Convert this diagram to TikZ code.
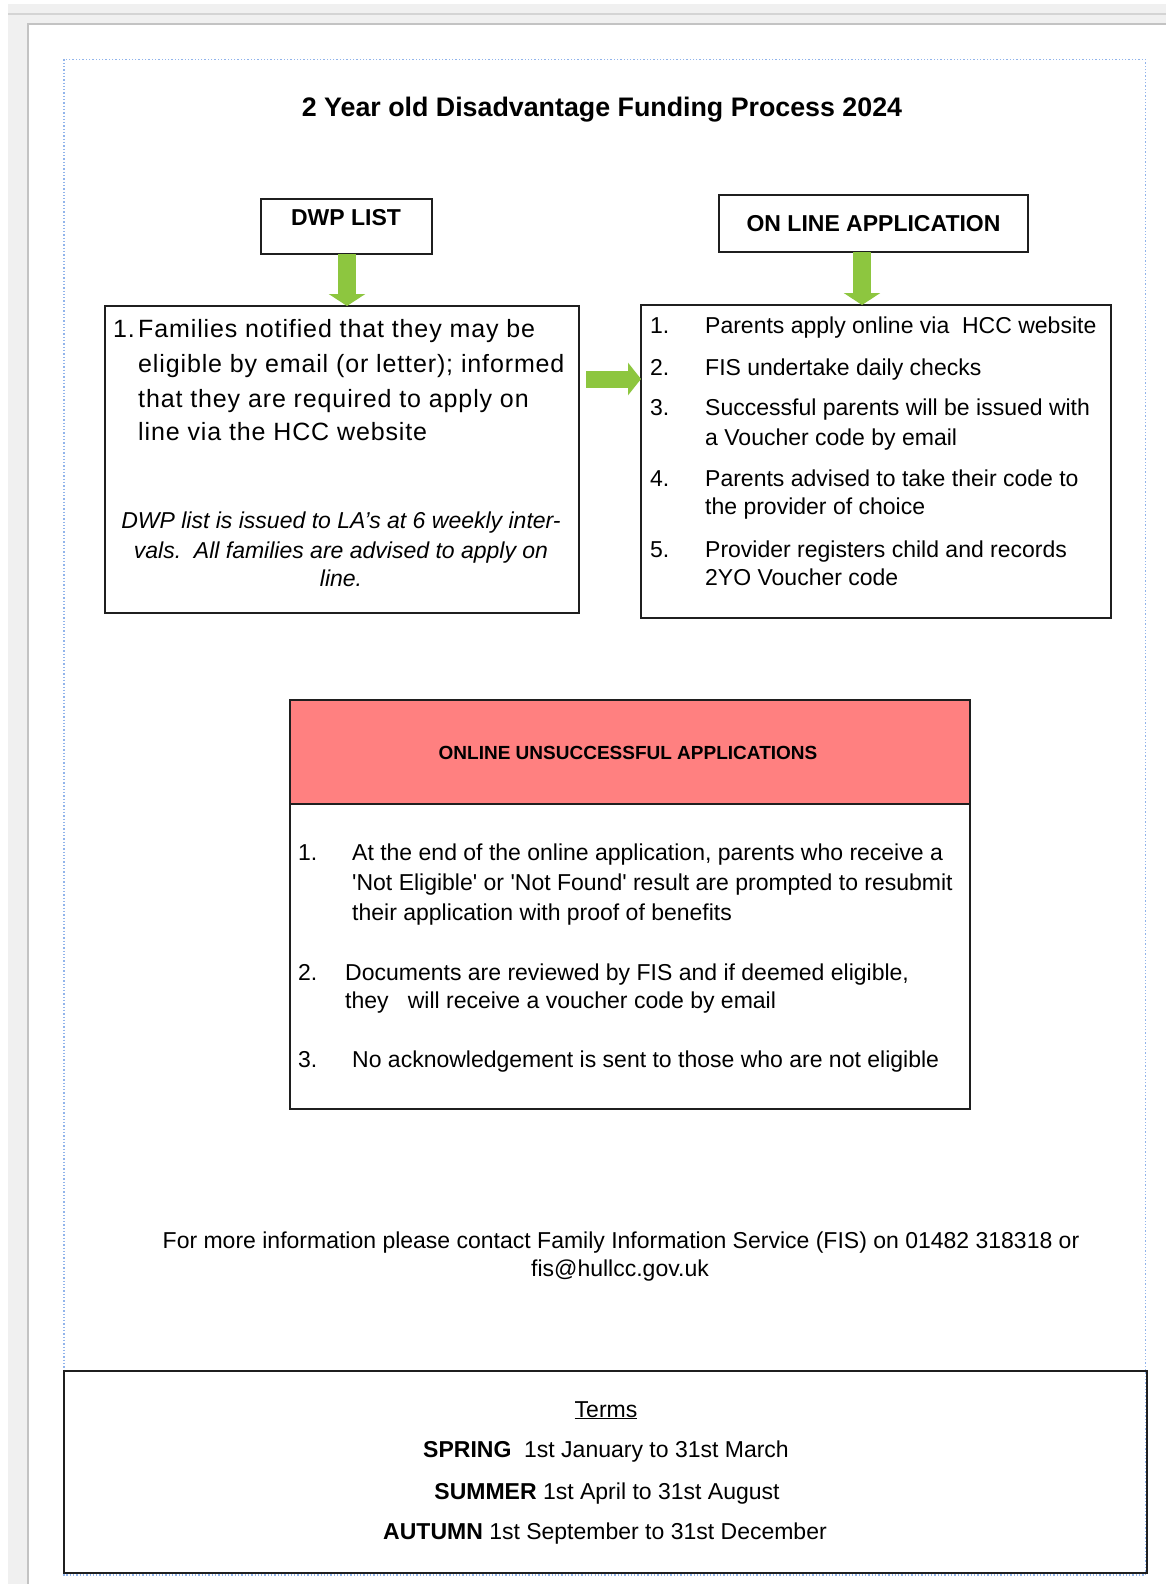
\documentclass[tikz,border=0pt]{standalone}
\usepackage{fontspec}
\setmainfont{Liberation Sans}
\newfontfamily\spacedfont[LetterSpace=3.5]{Liberation Sans}
\usetikzlibrary{arrows.meta,calc}
\definecolor{arrowgreen}{RGB}{141,198,63}
\definecolor{headred}{RGB}{255,128,128}
\definecolor{framegray}{RGB}{240,240,240}
\definecolor{frameline}{RGB}{212,212,212}
\definecolor{pageline}{RGB}{195,195,195}
\definecolor{guideblue}{RGB}{145,180,235}
\begin{document}
\begin{tikzpicture}[x=1pt,y=-1pt,
  box/.style={draw=black!88, line width=2pt, inner sep=0pt, outer sep=0pt, anchor=north west},
  lt/.style={inner sep=0pt, anchor=base west, font=\fontsize{23}{28}\selectfont},
  ct/.style={inner sep=0pt, anchor=base, font=\fontsize{23}{28}\selectfont},
  bigt/.style={inner sep=0pt, anchor=base west, font=\spacedfont\fontsize{25}{30}\selectfont},
  itt/.style={inner sep=0pt, anchor=base, font=\fontsize{23}{28}\selectfont\itshape},
  greenarrow/.style={draw=arrowgreen, fill=arrowgreen, line width=18pt, -{Triangle[width=36pt,length=12pt]}},
  greenarrowh/.style={draw=arrowgreen, fill=arrowgreen, line width=17pt, -{Triangle[width=32pt,length=13pt]}}]
\useasboundingbox (0,0) rectangle (1166,1584);
\fill[white] (0,0) rectangle (1166,1584);
% window frame
\fill[framegray] (8,4) rectangle (1166,23);
\fill[framegray] (8,23) rectangle (27,1584);
\draw[frameline, line width=2pt] (8,14) -- (1166,14);
\draw[pageline, line width=2pt] (28,1584) -- (28,24) -- (1166,24);
% guide
\draw[guideblue, dotted, line width=1.3pt] (64,59.5) rectangle (1145.5,1575);

% title
\node[ct, font=\fontsize{26.8}{30}\selectfont\bfseries] (title) at (602,117) {2 Year old Disadvantage Funding Process 2024};

% DWP
\node[box, minimum width=171pt, minimum height=55pt] (dwp) at (261,199) {};
\node[ct, font=\fontsize{23}{28}\selectfont\bfseries] (dwpt) at (346,225) {DWP LIST};
\node[box, minimum width=474pt, minimum height=307pt] (left) at (105,306) {};
\node[bigt] (l1n) at (113,337) {1.};
\node[bigt] (l1a) at (138,337) {Families notified that they may be};
\node[bigt] (l1b) at (138,372) {eligible by email (or letter); informed};
\node[bigt] (l1c) at (138,407) {that they are required to apply on};
\node[bigt] (l1d) at (138,440) {line via the HCC website};
\node[itt] (i1) at (341,528) {DWP list is issued to LA's at 6 weekly inter-};
\node[itt] (i2) at (341,558) {vals.\ \ All families are advised to apply on};
\node[itt] (i3) at (341,586) {line.};

% online application
\node[box, minimum width=309pt, minimum height=57pt] (onl) at (719,195) {};
\node[ct, font=\fontsize{23}{28}\selectfont\bfseries] (onlt) at (873.5,231) {ON LINE APPLICATION};
\node[box, minimum width=470pt, minimum height=313pt] (right) at (641,305) {};
\node[lt] (r1n) at (650,333) {1.};
\node[lt] (r1) at (705,333) {Parents apply online via~ HCC website};
\node[lt] (r2n) at (650,375) {2.};
\node[lt] (r2) at (705,375) {FIS undertake daily checks};
\node[lt] (r3n) at (650,415) {3.};
\node[lt] (r3a) at (705,415) {Successful parents will be issued with};
\node[lt] (r3b) at (705,445) {a Voucher code by email};
\node[lt] (r4n) at (650,486) {4.};
\node[lt] (r4a) at (705,486) {Parents advised to take their code to};
\node[lt] (r4b) at (705,514) {the provider of choice};
\node[lt] (r5n) at (650,557) {5.};
\node[lt] (r5a) at (705,557) {Provider registers child and records};
\node[lt] (r5b) at (705,585) {2YO Voucher code};

% arrows
\coordinate (a1) at (347,254);
\draw[greenarrow] (a1) -- (a1 |- left.north);
\coordinate (a2) at (862,252);
\draw[greenarrow] (a2) -- (a2 |- right.north);
\coordinate (a3) at (586,379);
\draw[greenarrowh] (a3) -- (a3 -| right.west);

% unsuccessful
\node[box, fill=headred, minimum width=680pt, minimum height=104pt] (uhead) at (290,700) {};
\node[box, minimum width=680pt, minimum height=305pt] (ubody) at (290,804) {};
\node[ct, font=\fontsize{19}{23}\selectfont\bfseries] (uht) at (628,759) {ONLINE UNSUCCESSFUL APPLICATIONS};
\node[lt] (u1n) at (298,860) {1.};
\node[lt] (u1a) at (352,860) {At the end of the online application, parents who receive a};
\node[lt] (u1b) at (352,890) {\textquotesingle Not Eligible\textquotesingle\ or \textquotesingle Not Found\textquotesingle\ result are prompted to resubmit};
\node[lt] (u1c) at (352,920) {their application with proof of benefits};
\node[lt] (u2n) at (298,980) {2.};
\node[lt] (u2a) at (345,980) {Documents are reviewed by FIS and if deemed eligible,};
\node[lt] (u2b) at (345,1008) {they~~ will receive a voucher code by email};
\node[lt] (u3n) at (298,1067) {3.};
\node[lt] (u3a) at (352,1067) {No acknowledgement is sent to those who are not eligible};

% footer
\node[ct] (f1) at (621,1248) {For more information please contact Family Information Service (FIS) on 01482 318318 or};
\node[ct] (f2) at (620,1276) {fis@hullcc.gov.uk};

% terms
\node[box, line width=2.5pt, minimum width=1083pt, minimum height=202pt] (terms) at (64,1371) {};
\node[ct] (tt) at (606,1417) {\underline{Terms}};
\node[ct] (t1) at (606,1457) {\textbf{SPRING}~ 1st January to 31st March};
\node[ct] (t2) at (607,1499) {\textbf{SUMMER} 1st April to 31st August};
\node[ct] (t3) at (605,1539) {\textbf{AUTUMN} 1st September to 31st December};
\end{tikzpicture}
\end{document}
